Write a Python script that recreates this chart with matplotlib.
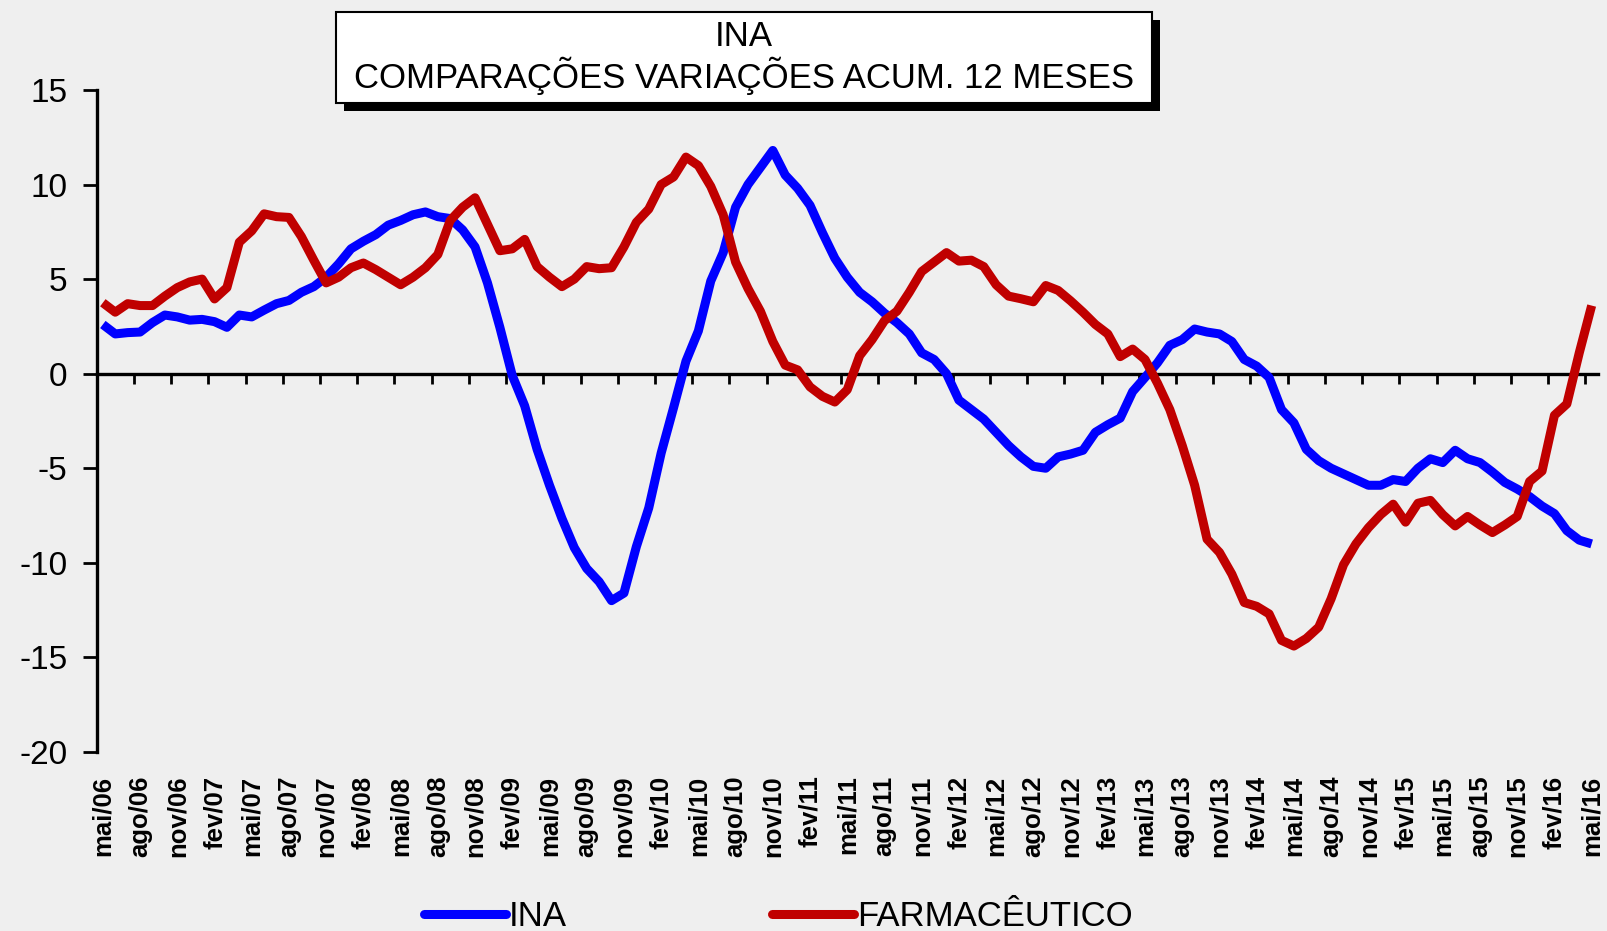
import numpy as np
import matplotlib
matplotlib.use("Agg")
import matplotlib.pyplot as plt
from matplotlib.patches import Rectangle
from matplotlib.lines import Line2D

plt.rcParams['font.family'] = ['Liberation Sans', 'DejaVu Sans']

# Monthly 12-month accumulated variation, mai/06 .. mai/16
ina = [2.6, 2.1, 2.17, 2.2, 2.7, 3.1, 3.0, 2.83, 2.87, 2.75,
       2.45, 3.1, 3.0, 3.36, 3.7, 3.87, 4.3, 4.6, 5.1, 5.8,
       6.6, 7.0, 7.35, 7.85, 8.1, 8.4, 8.55, 8.3, 8.2, 7.6,
       6.7, 4.8, 2.45, -0.1, -1.7, -4.0, -5.9, -7.65, -9.2, -10.3,
       -11.0, -12.0, -11.6, -9.15, -7.1, -4.2, -1.8, 0.66, 2.26, 4.9,
       6.4, 8.8, 10.0, 10.9, 11.8, 10.5, 9.8, 8.9, 7.45, 6.1,
       5.1, 4.3, 3.8, 3.2, 2.7, 2.1, 1.1, 0.75, 0.0, -1.4,
       -1.9, -2.4, -3.1, -3.8, -4.4, -4.9, -5.0, -4.4, -4.25, -4.05,
       -3.1, -2.7, -2.35, -0.95, -0.2, 0.57, 1.5, 1.8, 2.36, 2.2,
       2.1, 1.7, 0.75, 0.4, -0.2, -1.9, -2.6, -4.0, -4.6, -5.0,
       -5.3, -5.6, -5.9, -5.9, -5.6, -5.7, -5.0, -4.5, -4.7, -4.05,
       -4.5, -4.7, -5.2, -5.75, -6.1, -6.5, -7.0, -7.4, -8.3, -8.8,
       -9.0]

farma = [3.75, 3.25, 3.7, 3.6, 3.6, 4.1, 4.55, 4.85, 5.0, 3.95,
         4.55, 6.95, 7.55, 8.45, 8.3, 8.26, 7.25, 6.0, 4.8, 5.1,
         5.6, 5.85, 5.5, 5.1, 4.7, 5.1, 5.6, 6.3, 8.1, 8.8,
         9.3, 7.9, 6.5, 6.6, 7.1, 5.66, 5.1, 4.6, 5.0, 5.66,
         5.55, 5.6, 6.7, 8.0, 8.7, 10.0, 10.4, 11.45, 11.0, 9.9,
         8.4, 5.9, 4.5, 3.3, 1.7, 0.45, 0.2, -0.7, -1.2, -1.5,
         -0.85, 0.95, 1.8, 2.8, 3.3, 4.3, 5.4, 5.9, 6.4, 5.95,
         6.0, 5.66, 4.7, 4.1, 3.96, 3.8, 4.66, 4.4, 3.85, 3.25,
         2.6, 2.1, 0.9, 1.3, 0.75, -0.5, -1.9, -3.8, -5.9, -8.75,
         -9.45, -10.6, -12.1, -12.3, -12.7, -14.1, -14.4, -14.0, -13.4, -11.9,
         -10.1, -9.0, -8.15, -7.45, -6.9, -7.85, -6.85, -6.7, -7.45, -8.05,
         -7.55, -8.0, -8.4, -8.0, -7.55, -5.7, -5.15, -2.2, -1.6, 1.1,
         3.6]

month_names = ['jan', 'fev', 'mar', 'abr', 'mai', 'jun',
               'jul', 'ago', 'set', 'out', 'nov', 'dez']
months = [f"{month_names[(4 + k) % 12]}/{(6 + (4 + k) // 12):02d}" for k in range(len(ina))]

title = "INA\nCOMPARAÇÕES VARIAÇÕES ACUM. 12 MESES"
bg = '#efefef'

fig = plt.figure(figsize=(16.08, 9.31), dpi=100, facecolor=bg)
ax = fig.add_axes([0.0601, 0.1923, 0.9336, 0.7111])
ax.set_facecolor('none')

x = np.arange(len(ina))
ax.plot(x, ina, color='#0000ff', lw=6.5, solid_joinstyle='round', solid_capstyle='butt', zorder=3)
ax.plot(x, farma, color='#c00000', lw=6.5, solid_joinstyle='round', solid_capstyle='butt', zorder=3)

ax.set_xlim(-0.5, len(ina) - 0.5)
ax.set_ylim(-20, 15)

yt = list(range(-20, 16, 5))
ax.set_yticks(yt, labels=[str(v) for v in yt])
ax.tick_params(axis='y', length=10, width=2, direction='out', labelsize=24, pad=11)

# category labels every 3 months at the bottom, no tick marks
ax.set_xticks(x[::3], labels=months[::3], rotation=90, va='top', ha='center',
              fontweight='bold')
ax.tick_params(axis='x', length=0, labelsize=18.5, pad=17)

for s in ['top', 'right', 'bottom']:
    ax.spines[s].set_visible(False)
ax.spines['left'].set_linewidth(2.4)

# category axis crosses at zero, tick marks between categories
zero_pos = (0 - (-20)) / (15 - (-20))
sec = ax.secondary_xaxis(zero_pos)
sec.set_alignment('bottom')
sec.set_xticks(np.arange(-0.5, len(ina) - 1, 3))
sec.tick_params(axis='x', length=7, width=2, direction='out',
                labelbottom=False, labeltop=False)
sec.spines['bottom'].set_linewidth(2.4)

# title box with drop shadow
box = dict(x=0.2090, y=0.8898, w=0.5075, h=0.0970)
fig.patches.append(Rectangle((box['x'] + 8 / 1608, box['y'] - 8 / 931), box['w'], box['h'],
                             transform=fig.transFigure, fc='black', ec='none', zorder=1))
fig.patches.append(Rectangle((box['x'], box['y']), box['w'], box['h'],
                             transform=fig.transFigure, fc='white', ec='black', lw=1.5, zorder=2))
fig.text(box['x'] + box['w'] / 2, box['y'] + box['h'] / 2, title, ha='center', va='center',
         fontsize=25, linespacing=1.1, multialignment='center', zorder=3)

handles = [Line2D([], [], color='#0000ff', lw=6.5, solid_capstyle='round'),
           Line2D([], [], color='#c00000', lw=6.5, solid_capstyle='round')]
fig.legend(handles, ['INA', 'FARMACÊUTICO'], loc='center', bbox_to_anchor=(0.484, 0.0156),
           ncol=2, frameon=False, fontsize=25, handlelength=2.36, handletextpad=0.1,
           columnspacing=5.9)

fig.savefig('out.png', dpi=100, facecolor=bg)
